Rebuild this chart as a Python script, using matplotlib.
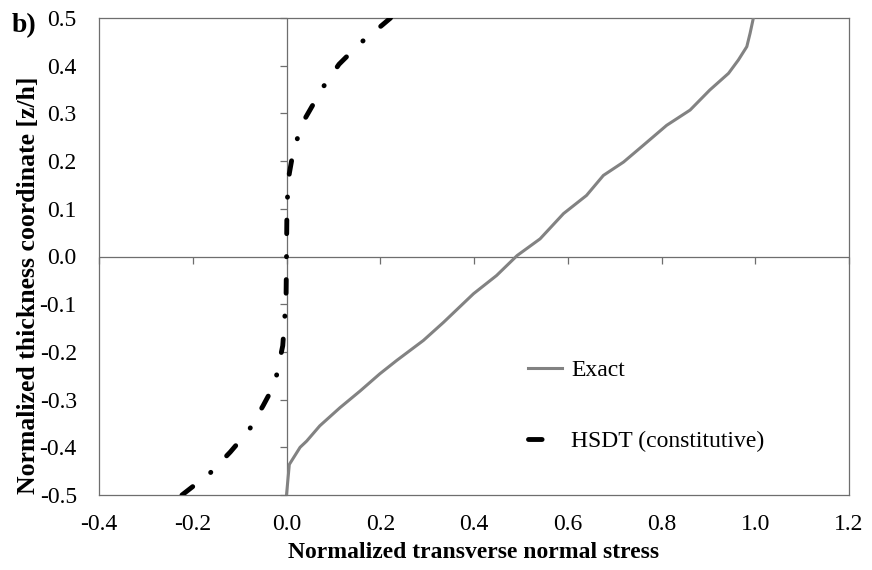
import numpy as np
import matplotlib
matplotlib.use('Agg')
import matplotlib.pyplot as plt

# through-thickness profiles of the transverse normal stress
z_exact = [-0.500, -0.436, -0.400, -0.387, -0.355, -0.317, -0.282, -0.246, -0.218,
           -0.176, -0.138, -0.078, -0.040, 0.002, 0.037, 0.090, 0.128, 0.170,
           0.198, 0.233, 0.275, 0.307, 0.349, 0.384, 0.412, 0.440, 0.468, 0.500]
s_exact = [0.000, 0.006, 0.029, 0.043, 0.071, 0.114, 0.157, 0.199, 0.235,
           0.292, 0.335, 0.399, 0.448, 0.492, 0.541, 0.591, 0.640, 0.676,
           0.719, 0.761, 0.811, 0.861, 0.903, 0.943, 0.964, 0.982, 0.989, 0.996]

z_hsdt = [-0.500, -0.454, -0.410, -0.364, -0.313, -0.267, -0.187, -0.090, 0.000,
          0.110, 0.174, 0.229, 0.290, 0.355, 0.403, 0.447, 0.485, 0.500]
s_hsdt = [-0.223, -0.163, -0.120, -0.080, -0.050, -0.025, -0.008, -0.001, 0.000,
          0.001, 0.006, 0.016, 0.040, 0.078, 0.112, 0.157, 0.204, 0.222]

xticks = [-0.4, -0.2, 0.0, 0.2, 0.4, 0.6, 0.8, 1.0, 1.2]
yticks = [-0.5, -0.4, -0.3, -0.2, -0.1, 0.0, 0.1, 0.2, 0.3, 0.4, 0.5]

plt.rcParams['font.family'] = ['Liberation Serif', 'DejaVu Serif']
plt.rcParams['font.size'] = 17

axcol = '#6e6e6e'

fig = plt.figure(figsize=(8.72, 5.70), dpi=100)
ax = fig.add_axes([99/872, 1 - 495/570, 750/872, 477/570])

ax.plot(s_exact, z_exact, color='#828282', lw=2.2, label='Exact', zorder=3)
ax.plot(s_hsdt, z_hsdt, color='black', lw=3.5, linestyle=(0, (2.8, 4.7, 0.05, 4.7)),
        dash_capstyle='round', label='HSDT (constitutive)', zorder=4)

ax.set_xlim(-0.4, 1.2)
ax.set_ylim(-0.5, 0.5)
ax.set_xticks(xticks)
ax.set_yticks(yticks)
ax.set_xticklabels(['%.1f' % v for v in xticks])
ax.set_yticklabels(['%.1f' % v for v in yticks])
ax.tick_params(axis='x', length=0, pad=14)
ax.tick_params(axis='y', length=0, pad=16)
for s in ax.spines.values():
    s.set_color(axcol)
    s.set_linewidth(0.9)

# axes crossing at zero, with their own tick marks
ax.axhline(0, color=axcol, lw=0.9, zorder=2)
ax.axvline(0, color=axcol, lw=0.9, zorder=2)
ax.plot(xticks, np.zeros(len(xticks)), ls='none', marker=3, ms=5, mew=0.9,
        color=axcol, zorder=2, clip_on=False)
ax.plot(np.zeros(len(yticks)), yticks, ls='none', marker=0, ms=5, mew=0.9,
        color=axcol, zorder=2, clip_on=False)

ax.set_xlabel('Normalized transverse normal stress', fontweight='bold', labelpad=5)
ax.set_ylabel('Normalized thickness coordinate [z/h]', fontweight='bold', fontsize=18.5)
ax.yaxis.set_label_coords(-0.078, 0.44)

ax.legend(loc='upper left', bbox_to_anchor=(0.559, 1 - (350 - 18)/477),
          frameon=False, handlelength=1.45, handletextpad=0.4, labelspacing=2.1,
          borderaxespad=0)

fig.text(12/872, 1 - 32/570, 'b)', fontweight='bold', fontsize=20, va='baseline')

fig.savefig('out.png', dpi=100)
